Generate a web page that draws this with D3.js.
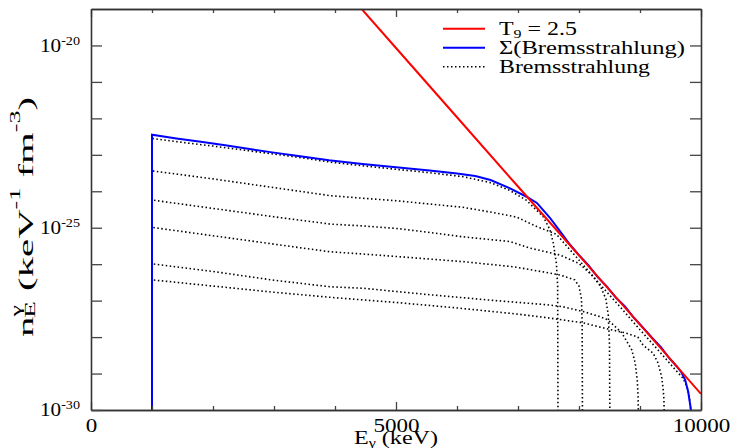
<!DOCTYPE html>
<html>
<head>
<meta charset="utf-8">
<script src="https://cdn.jsdelivr.net/npm/d3@7"></script>
<style>
  body { margin: 0; background: #fff; }
  svg { display: block; }
  .tick line { stroke: #444; stroke-width: 1.3; }
  .domain { stroke: #333; stroke-width: 1.6; }
</style>
</head>
<body>
<svg width="730" height="448"></svg>
<script>
// photon energy E (keV) and log10 of n (keV^-1 fm^-3)

// T9 = 2.5 (red)
const planckE   = [4300, 5000, 6000, 7000, 8000, 9000, 10000];
const planckLog = [-18.74, -20.07, -21.97, -23.87, -25.76, -27.66, -29.56];

// sum of the bremsstrahlung spectra (blue)
const sumE   = [1000, 1000, 1400, 1800, 2200, 2600, 3000, 3400, 3900, 4450, 5000, 5550, 6000, 6300, 6550, 6870, 7140, 7310, 7520, 7690, 7850, 8000, 8150, 8300, 8450, 8600, 8750, 8900, 9050, 9200, 9350, 9480, 9600, 9680, 9740, 9790, 9836];
const sumLog = [-30, -22.45, -22.55, -22.64, -22.74, -22.84, -22.94, -23.03, -23.15, -23.25, -23.34, -23.43, -23.51, -23.58, -23.69, -23.92, -24.15, -24.32, -24.72, -25.1, -25.46, -25.75, -26.02, -26.34, -26.6, -26.91, -27.15, -27.47, -27.74, -28.02, -28.29, -28.58, -28.8, -28.97, -29.17, -29.5, -30];

// single bremsstrahlung spectra (dotted)
const brem1E   = [1000, 1000, 1500, 2000, 2500, 3000, 3500, 3920, 4450, 5010, 5550, 6100, 6540, 6870, 7140, 7415, 7525, 7580, 7630, 7650, 7655];
const brem1Log = [-30, -22.55, -22.66, -22.76, -22.87, -22.98, -23.09, -23.2, -23.3, -23.4, -23.49, -23.6, -23.76, -23.98, -24.25, -24.7, -25.06, -25.43, -25.98, -26.6, -30];

const brem2E   = [1000, 1000, 2000, 3000, 3920, 4450, 5010, 5550, 6100, 6650, 6980, 7310, 7630, 7850, 8100, 8400, 8700, 9000, 9300, 9550, 9700, 9770, 9810, 9830];
const brem2Log = [-30, -23.44, -23.66, -23.9, -24.12, -24.19, -24.26, -24.35, -24.44, -24.6, -24.71, -24.97, -25.18, -25.6, -26.08, -26.66, -27.22, -27.8, -28.36, -28.84, -29.12, -29.35, -29.65, -30];

const brem3E   = [1000, 1000, 2000, 3000, 3920, 4450, 5010, 5550, 6100, 6870, 7200, 7690, 8000, 8200, 8350, 8440, 8480, 8500, 8505];
const brem3Log = [-30, -24.24, -24.47, -24.7, -24.9, -24.95, -25.02, -25.13, -25.25, -25.38, -25.56, -25.75, -25.98, -26.28, -26.6, -26.95, -27.4, -28.2, -30];

const brem4E   = [1000, 1000, 2000, 3000, 3920, 4450, 5010, 6100, 6920, 7410, 7700, 7930, 8000, 8040, 8052, 8056];
const brem4Log = [-30, -24.99, -25.22, -25.45, -25.66, -25.72, -25.79, -25.93, -26.07, -26.21, -26.3, -26.43, -26.6, -26.95, -27.6, -30];

const brem5E   = [1000, 1000, 2000, 3000, 3920, 4460, 5500, 6500, 7525, 7740, 8070, 8345, 8475, 8700, 8865, 8920, 8955, 8968, 8972];
const brem5Log = [-30, -25.99, -26.2, -26.44, -26.62, -26.66, -26.83, -26.98, -27.12, -27.17, -27.3, -27.44, -27.53, -27.88, -28.35, -28.7, -29.18, -29.6, -30];

const brem6E   = [1000, 1000, 2000, 3000, 4000, 5000, 6000, 7000, 7525, 8070, 8475, 8750, 8965, 9050, 9215, 9295, 9355, 9378, 9392, 9396];
const brem6Log = [-30, -26.43, -26.6, -26.77, -26.92, -27.05, -27.2, -27.37, -27.48, -27.61, -27.78, -27.88, -28.0, -28.22, -28.44, -28.71, -29.09, -29.4, -29.7, -30];

// axes
const xMajorTicks = [0, 5000, 10000];
const xMinorTicks = [1000, 2000, 3000, 4000, 6000, 7000, 8000, 9000];
const yTickExps   = [-30, -29, -28, -27, -26, -25, -24, -23, -22, -21, -20];
const yLabelExps  = [-30, -25, -20];

const legendNames = ["T9 = 2.5", "Σ(Bremsstrahlung)", "Bremsstrahlung"];

// ======== scales
const FONT = "'Liberation Serif', 'Times New Roman', Times, serif";
const svg = d3.select("svg").attr("font-family", FONT);
const plotLeft = 91, plotRight = 701, plotTop = 9, plotBottom = 410;

const x = d3.scaleLinear().domain([0, 10000]).range([plotLeft, plotRight]);
const y = d3.scaleLog().domain([1e-30, 1e-19]).range([plotBottom, plotTop]);

const line = d3.line()
  .x(d => x(d[0]))
  .y(d => y(Math.pow(10, d[1])));

const zip = (E, L) => E.map((e, i) => [e, L[i]]);

// the original's text is drawn wider than the font; stretch it and
// re-anchor by hand (text-anchor does not follow textLength)
function widen(sel, anchor, target) {
  sel.each(function () {
    const t = d3.select(this);
    const w = this.getComputedTextLength();
    const len = typeof target === "function" ? target(w) : target;
    const x0 = +t.attr("x") || 0;
    const shift = anchor === "end" ? len : anchor === "middle" ? len / 2 : 0;
    t.attr("text-anchor", "start")
      .attr("x", x0 - shift)
      .attr("textLength", len)
      .attr("lengthAdjust", "spacingAndGlyphs");
  });
}

svg.append("clipPath").attr("id", "plot")
  .append("rect")
  .attr("x", plotLeft).attr("y", plotTop)
  .attr("width", plotRight - plotLeft).attr("height", plotBottom - plotTop);

// ======== curves
const curves = svg.append("g").attr("clip-path", "url(#plot)").attr("fill", "none");

const brems = [
  [brem1E, brem1Log], [brem2E, brem2Log], [brem3E, brem3Log],
  [brem4E, brem4Log], [brem5E, brem5Log], [brem6E, brem6Log]
];

curves.selectAll("path.brem")
  .data(brems)
  .join("path")
  .attr("class", "brem")
  .attr("d", d => line(zip(d[0], d[1])))
  .attr("stroke", "#000")
  .attr("stroke-width", 1.6)
  .attr("stroke-dasharray", "1.5,2.5");

curves.append("path")
  .attr("d", line(zip(sumE, sumLog)))
  .attr("stroke", "#0000ff")
  .attr("stroke-width", 2);

curves.append("path")
  .attr("d", line(zip(planckE, planckLog)))
  .attr("stroke", "#ff0000")
  .attr("stroke-width", 2);

// ======== axes (ticks point inwards)
svg.append("g").attr("transform", `translate(0,${plotBottom})`)
  .call(d3.axisBottom(x).tickValues(xMinorTicks).tickSize(-4).tickSizeOuter(0).tickFormat(""));
const xAxis = svg.append("g").attr("transform", `translate(0,${plotBottom})`)
  .call(d3.axisBottom(x).tickValues(xMajorTicks).tickSize(-8).tickSizeOuter(0)
    .tickPadding(9).tickFormat(d3.format("d")));
xAxis.attr("font-family", null).attr("font-size", 18);
xAxis.selectAll("text").attr("fill", "#000");
widen(xAxis.selectAll("text"), "middle", w => w * 1.28);

svg.append("g").attr("transform", `translate(0,${plotTop})`)
  .call(d3.axisTop(x).tickValues(xMinorTicks).tickSize(-4).tickSizeOuter(0).tickFormat(""));
svg.append("g").attr("transform", `translate(0,${plotTop})`)
  .call(d3.axisTop(x).tickValues(xMajorTicks).tickSize(-8).tickSizeOuter(0).tickFormat(""));

const yTicks = yTickExps.map(e => Math.pow(10, e));
svg.append("g").attr("transform", `translate(${plotLeft},0)`)
  .call(d3.axisLeft(y).tickValues(yTicks).tickSize(-11).tickSizeOuter(0).tickFormat(""));
svg.append("g").attr("transform", `translate(${plotRight},0)`)
  .call(d3.axisRight(y).tickValues(yTicks).tickSize(-11).tickSizeOuter(0).tickFormat(""));

// 10^n labels
const yLabels = svg.append("g")
  .selectAll("text")
  .data(yLabelExps)
  .join("text")
  .attr("x", plotLeft - 11)
  .attr("y", d => y(Math.pow(10, d)))
  .attr("dy", "0.34em")
  .attr("font-size", 18);
yLabels.append("tspan").text("10");
yLabels.append("tspan").attr("font-size", 12).attr("dy", -7).text(d => d);
widen(yLabels, "end", 40);

// ======== axis titles
const xTitle = svg.append("text")
  .attr("x", x(5000)).attr("y", 444)
  .attr("font-size", 18);
xTitle.append("tspan").text("E");
xTitle.append("tspan").attr("font-size", 12).attr("dy", 2.5).text("γ");
xTitle.append("tspan").attr("dy", -2.5).text(" (keV)");
widen(xTitle, "middle", 84);

const yTitle = svg.append("text")
  .attr("transform", "translate(33,217) rotate(-90)")
  .attr("font-size", 22);
yTitle.append("tspan").text("n");
yTitle.append("tspan").attr("font-size", 14).attr("dy", -12).text("γ");
yTitle.append("tspan").attr("font-size", 15).attr("dx", -7).attr("dy", 14).text("E");
yTitle.append("tspan").attr("dy", -2).text(" (keV");
yTitle.append("tspan").attr("font-size", 14).attr("dy", -13).text("-1");
yTitle.append("tspan").attr("dy", 13).text(" fm");
yTitle.append("tspan").attr("font-size", 14).attr("dy", -13).text("-3");
yTitle.append("tspan").attr("dy", 13).text(")");
widen(yTitle, "middle", 240);

// ======== legend
const legendStyles = [
  { stroke: "#ff0000", dash: null, width: 2, textWidth: 78 },
  { stroke: "#0000ff", dash: null, width: 2, textWidth: 186 },
  { stroke: "#000", dash: "1.5,2.5", width: 1.6, textWidth: 151 }
];

const legend = svg.append("g")
  .selectAll("g")
  .data(legendNames)
  .join("g")
  .attr("transform", (d, i) => `translate(443,${28.7 + i * 19})`);

legend.append("line")
  .attr("x1", 0).attr("x2", 42)
  .attr("stroke", (d, i) => legendStyles[i].stroke)
  .attr("stroke-width", (d, i) => legendStyles[i].width)
  .attr("stroke-dasharray", (d, i) => legendStyles[i].dash);

const legendText = legend.append("text")
  .attr("x", 56).attr("y", 6)
  .attr("font-size", 18);
legendText.each(function (d, i) {
  const t = d3.select(this);
  if (d.startsWith("T9")) {
    t.append("tspan").text("T");
    t.append("tspan").attr("font-size", 12).attr("dy", 3).text("9");
    t.append("tspan").attr("dy", -3).text(" = 2.5");
  } else {
    t.text(d);
  }
  widen(t, "start", legendStyles[i].textWidth);
});
</script>
</body>
</html>
